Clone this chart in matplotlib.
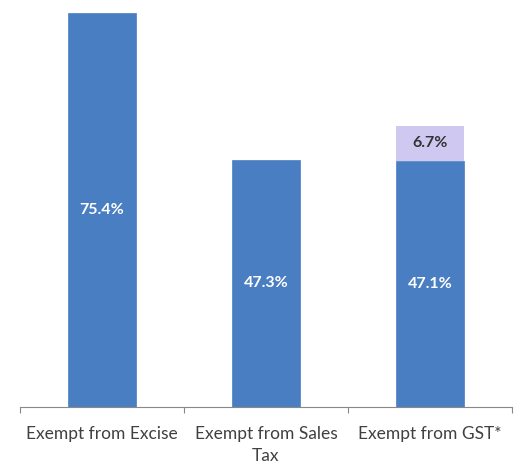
import matplotlib
matplotlib.use("Agg")
import matplotlib.pyplot as plt

categories = ["Exempt from Excise", "Exempt from Sales\nTax", "Exempt from GST*"]
base_values = [75.4, 47.3, 47.1]
extra_values = [0, 0, 6.7]

blue = "#4A7EC2"
light = "#CFC8F0"

fig = plt.figure(figsize=(5.18, 4.72), dpi=100)
ax = fig.add_axes([20/518, 65/472, 492/518, 394/472])

x = list(range(len(categories)))
ax.bar(x, base_values, width=0.41, color=blue, edgecolor="#5A8AC8", linewidth=0.6)
ax.bar(x, extra_values, bottom=base_values, width=0.41, color=light, linewidth=0)

for i, (b, e) in enumerate(zip(base_values, extra_values)):
    ax.text(i, b / 2, f"{b:.1f}%", ha="center", va="center", color="white",
            fontsize=11.5, family="Lato", weight="bold")
    if e > 0:
        ax.text(i, b + e / 2, f"{e:.1f}%", ha="center", va="center", color="#333333",
                fontsize=11.5, family="Lato", weight="bold")

ax.set_xlim(-0.5, 2.5)
ax.set_ylim(0, 75.4)
for s in ["top", "right", "left"]:
    ax.spines[s].set_visible(False)
ax.spines["bottom"].set_color("#888888")
ax.yaxis.set_visible(False)
ax.set_xticks([-0.5, 0.5, 1.5, 2.5])
ax.set_xticklabels([])
ax.tick_params(axis="x", which="major", length=4, color="#888888")
ax.set_xticks(x, minor=True)
ax.set_xticklabels(categories, minor=True, fontsize=12.5, family="Lato", color="#404040",
                   linespacing=1.45)
ax.tick_params(axis="x", which="minor", length=0, pad=14)

fig.savefig("out.png", dpi=100)
